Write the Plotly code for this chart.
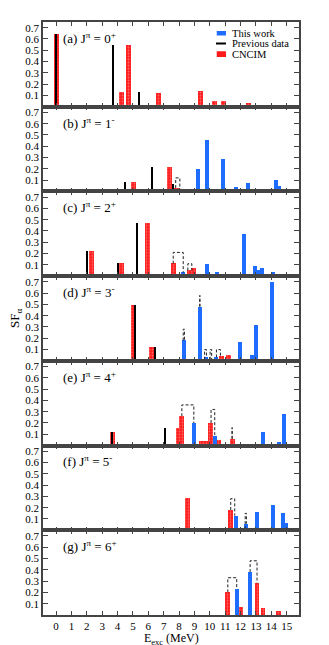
import plotly.graph_objects as go
from plotly.subplots import make_subplots

# one list per panel, (a) J=0+ ... (g) J=6+
PANEL_LABELS = [
    "(a) J<sup>π</sup> = 0<sup>+</sup>",
    "(b) J<sup>π</sup> = 1<sup>-</sup>",
    "(c) J<sup>π</sup> = 2<sup>+</sup>",
    "(d) J<sup>π</sup> = 3<sup>-</sup>",
    "(e) J<sup>π</sup> = 4<sup>+</sup>",
    "(f) J<sup>π</sup> = 5<sup>-</sup>",
    "(g) J<sup>π</sup> = 6<sup>+</sup>",
]

# This work (blue)
WORK_E = [
    [],
    [8.12, 9.22, 9.81, 10.84, 11.71, 12.51, 14.31, 14.52],
    [8.27, 9.83, 10.45, 12.23, 12.92, 13.16, 13.42, 14.13],
    [8.31, 9.37, 9.74, 10.43, 11.99, 12.73, 13.0, 14.03],
    [9.0, 10.32, 12.58, 13.46, 14.52, 14.8],
    [11.67, 12.38, 13.07, 14.13, 14.74, 14.94],
    [11.75, 12.62],
]
WORK_SF = [
    [],
    [0.02, 0.20, 0.46, 0.29, 0.04, 0.08, 0.10, 0.05],
    [0.03, 0.10, 0.03, 0.37, 0.09, 0.05, 0.07, 0.03],
    [0.18, 0.48, 0.03, 0.03, 0.17, 0.05, 0.32, 0.70],
    [0.20, 0.09, 0.005, 0.12, 0.03, 0.28],
    [0.13, 0.06, 0.17, 0.23, 0.16, 0.07],
    [0.23, 0.38],
]

# Previous data (black lines)
PREV_E = [
    [0.0, 3.7, 5.39],
    [4.5, 6.23, 7.64],
    [2.03, 4.03, 5.3],
    [5.17, 6.47],
    [3.68, 7.12],
    [7.97],
    [],
]
PREV_SF = [
    [0.64, 0.55, 0.13],
    [0.09, 0.22, 0.065],
    [0.22, 0.11, 0.47],
    [0.49, 0.12],
    [0.12, 0.16],
    [0.01],
    [],
]

# CNCIM (red, hatched)
CNCIM_E = [
    [0.0, 4.24, 4.72, 6.65, 9.42, 10.28, 10.87, 12.49],
    [5.04, 7.36, 7.86],
    [2.3, 4.24, 5.93, 7.62, 8.68, 8.96],
    [5.02, 6.23, 8.48, 9.3, 10.1, 10.74, 11.2],
    [3.64, 7.94, 8.16, 9.45, 9.7, 10.06, 10.56, 11.45],
    [7.01, 8.57, 9.5, 11.36, 12.2, 12.84, 13.33, 13.85, 14.1],
    [11.17, 12.03, 13.07, 13.46, 14.48],
]
CNCIM_SF = [
    [0.64, 0.13, 0.55, 0.12, 0.14, 0.05, 0.055, 0.03],
    [0.09, 0.22, 0.03],
    [0.22, 0.11, 0.47, 0.11, 0.05, 0.065],
    [0.49, 0.12, 0.01, 0.01, 0.01, 0.04, 0.05],
    [0.12, 0.16, 0.26, 0.04, 0.04, 0.20, 0.05, 0.06],
    [0.015, 0.29, 0.015, 0.18, 0.01, 0.015, 0.02, 0.005, 0.005],
    [0.20, 0.07, 0.28, 0.06, 0.03],
]

# dashed brackets linking corresponding states
BR_PANEL = [1, 2, 2, 3, 3, 3, 3, 3, 4, 4, 4, 5, 5, 6, 6]
BR_X0 = [7.78, 7.62, 8.57, 8.27, 9.35, 9.66, 10.02, 10.43, 8.18, 10.08, 11.45, 11.36, 12.3, 11.17, 12.62]
BR_X1 = [8.05, 8.27, 8.83, 8.35, 9.35, 9.78, 10.12, 10.69, 8.96, 10.32, 11.45, 11.62, 12.38, 11.75, 13.07]
BR_Y0 = [0.03, 0.11, 0.05, 0.18, 0.48, 0.01, 0.01, 0.03, 0.26, 0.20, 0.06, 0.18, 0.01, 0.20, 0.38]
BR_Y1 = [0.02, 0.03, 0.05, 0.18, 0.48, 0.03, 0.01, 0.04, 0.20, 0.09, 0.06, 0.13, 0.06, 0.23, 0.28]
BR_TOP = [0.12, 0.21, 0.11, 0.28, 0.58, 0.10, 0.10, 0.10, 0.36, 0.32, 0.16, 0.28, 0.15, 0.33, 0.48]

LEGEND_NAMES = ["This work", "Previous data", "CNCIM"]

BLUE = "#1f6dff"
RED = "#ff1a1a"
FONT = "Liberation Serif"
HATCH = dict(shape=".", fgcolor="#ffb3b3", size=3, solidity=0.3)

fig = make_subplots(rows=7, cols=1, shared_xaxes=True, vertical_spacing=0)

for i in range(7):
    r = i + 1
    fig.add_bar(x=CNCIM_E[i], y=CNCIM_SF[i], width=0.32, marker_color=RED,
                marker_line_width=0, showlegend=False, marker_pattern=HATCH, row=r, col=1)
    fig.add_bar(x=WORK_E[i], y=WORK_SF[i], width=0.26, marker_color=BLUE,
                marker_line_width=0, showlegend=False, row=r, col=1)
    fig.add_bar(x=PREV_E[i], y=PREV_SF[i], width=0.1, marker_color="black",
                marker_line_width=0, showlegend=False, row=r, col=1)
    bx, by = [], []
    for k, p in enumerate(BR_PANEL):
        if p != i:
            continue
        bx += [BR_X0[k], BR_X0[k], BR_X1[k], BR_X1[k], None]
        by += [BR_Y0[k], BR_TOP[k], BR_TOP[k], BR_Y1[k], None]
    if bx:
        fig.add_scatter(x=bx, y=by, mode="lines", showlegend=False,
                        line=dict(color="#222222", width=1, dash="3px,2px"), row=r, col=1)
    suffix = str(r) if r > 1 else ""
    fig.add_annotation(x=0.35, y=0.61, xref="x" + suffix, yref="y" + suffix,
                       text=PANEL_LABELS[i], showarrow=False, xanchor="left",
                       font=dict(family=FONT, size=13, color="black"))
    fig.update_yaxes(range=[0, 0.75], tickvals=[0.1, 0.2, 0.3, 0.4, 0.5, 0.6, 0.7],
                     ticks="inside", ticklen=5, showline=True, linecolor="#444444", linewidth=1.5,
                     mirror="ticks", showgrid=False, zeroline=False,
                     tickfont=dict(family=FONT, size=11, color="black"), row=r, col=1)
    fig.update_xaxes(range=[-0.85, 15.8], tickvals=list(range(16)), ticks="inside", ticklen=4,
                     showline=True, linecolor="#444444", linewidth=1.5, mirror="ticks",
                     showgrid=False, zeroline=False, showticklabels=(r == 7),
                     tickfont=dict(family=FONT, size=11, color="black"), row=r, col=1)

# hand-made legend in panel (a)
legend_y = [0.65, 0.56, 0.465]
fig.add_shape(type="rect", x0=10.45, x1=11.05, y0=0.63, y1=0.67, xref="x", yref="y",
              fillcolor=BLUE, line_width=0)
fig.add_shape(type="line", x0=10.4, x1=11.05, y0=legend_y[1], y1=legend_y[1], xref="x", yref="y",
              line=dict(color="black", width=2))
fig.add_shape(type="rect", x0=10.45, x1=11.05, y0=0.44, y1=0.49, xref="x", yref="y",
              fillcolor=RED, line_width=0)
for name, yy in zip(LEGEND_NAMES, legend_y):
    fig.add_annotation(x=11.3, y=yy, xref="x", yref="y", text=name, showarrow=False,
                       xanchor="left", yanchor="middle",
                       font=dict(family=FONT, size=10.5, color="black"))

fig.add_annotation(x=0, y=0.5, xref="paper", yref="paper", text="SF<sub>α</sub>",
                   showarrow=False, textangle=-90, xanchor="right", xshift=-17,
                   font=dict(family=FONT, size=13, color="black"))
fig.add_annotation(x=0.5, y=0, xref="paper", yref="paper", text="E<sub>exc</sub> (MeV)",
                   showarrow=False, yanchor="middle", yshift=-24,
                   font=dict(family=FONT, size=12, color="black"))

fig.update_layout(
    width=329, height=645, barmode="overlay", bargap=0,
    margin=dict(l=35, r=38, t=12, b=38),
    paper_bgcolor="white", plot_bgcolor="white", showlegend=False,
    font=dict(family=FONT, size=11, color="black"),
)

fig.write_html("out.html")
